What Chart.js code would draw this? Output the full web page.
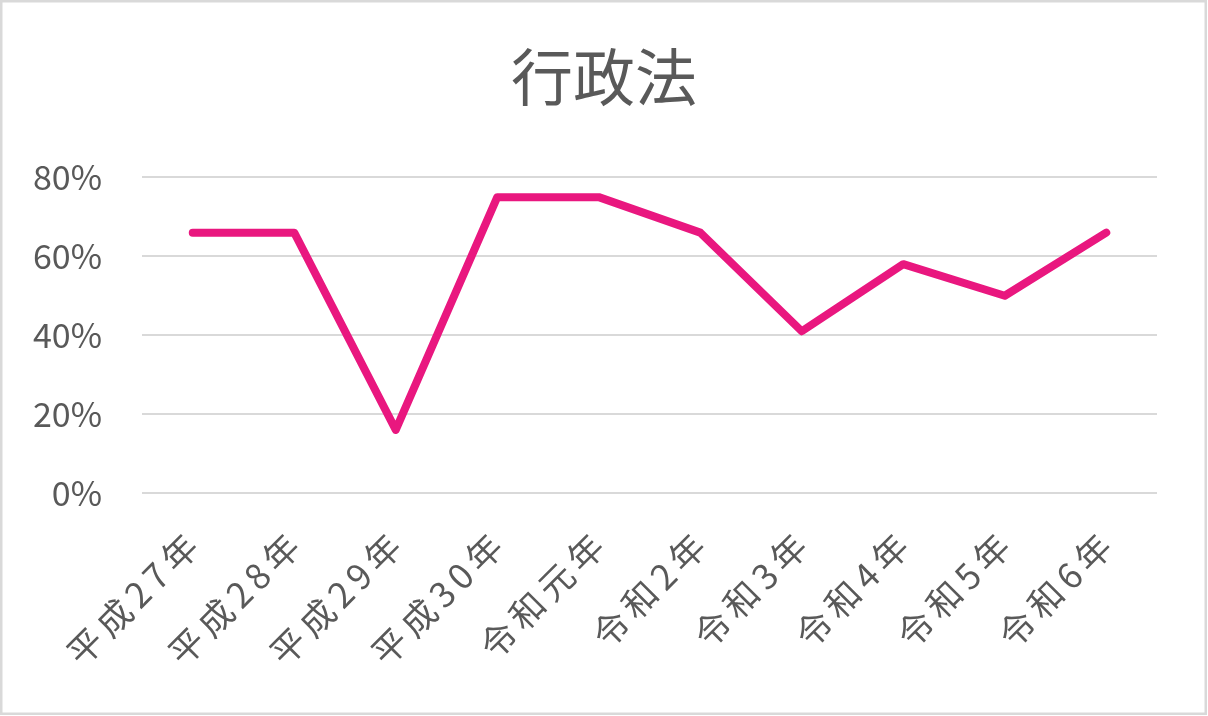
<!DOCTYPE html>
<html>
<head>
<meta charset="utf-8">
<script src="https://cdn.jsdelivr.net/npm/chart.js@4.4.1/dist/chart.umd.min.js"></script>
<style>
  body { margin: 0; background: #fff; }
  #wrap { width: 1208px; height: 716px; position: relative; }
</style>
</head>
<body>
<div id="wrap"><canvas id="chart" width="1208" height="716"></canvas></div>
<script>
  const chartTitle = '行政法';
  const categories = ['平成27年', '平成28年', '平成29年', '平成30年', '令和元年', '令和2年', '令和3年', '令和4年', '令和5年', '令和6年'];
  const rates = [66, 66, 16, 75, 75, 66, 41, 58, 50, 66];
  const yTicks = [0, 20, 40, 60, 80];

  const textColor = '#595959';
  const gridColor = '#d9d9d9';
  const lineColor = '#e9177f';
  const fontFamily = '"Noto Sans CJK JP", "Noto Sans", sans-serif';

  // light frame round the whole chart, like the office chart border
  const frame = {
    id: 'frame',
    afterDraw(chart) {
      const ctx = chart.ctx;
      ctx.save();
      ctx.strokeStyle = gridColor;
      ctx.lineWidth = 2.5;
      ctx.strokeRect(1.25, 1.25, chart.width - 3.5, chart.height - 3.5);
      ctx.restore();
    }
  };

  // category labels in the original run a little looser than the font gives
  function spaceOutLabels(scale) {
    if (scale._spaced) return;
    const orig = scale.drawLabels;
    scale.drawLabels = function (area) {
      const c = this.ctx;
      c.save();
      c.letterSpacing = '6px';
      orig.call(this, area);
      c.restore();
    };
    scale._spaced = true;
  }

  const ctx = document.getElementById('chart').getContext('2d');
  new Chart(ctx, {
    type: 'line',
    data: {
      labels: categories,
      datasets: [{
        label: chartTitle,
        data: rates,
        borderColor: lineColor,
        backgroundColor: lineColor,
        borderWidth: 8,
        borderCapStyle: 'round',
        borderJoinStyle: 'round',
        pointRadius: 0,
        tension: 0,
        fill: false
      }]
    },
    options: {
      responsive: false,
      animation: false,
      layout: { padding: 0 },
      plugins: {
        legend: { display: false },
        tooltip: { enabled: false },
        title: {
          display: true,
          text: chartTitle,
          color: textColor,
          font: { family: fontFamily, size: 62, weight: 'normal', lineHeight: 1.2 },
          padding: { top: 40, bottom: 63 }
        }
      },
      scales: {
        x: {
          offset: true,
          grid: { display: false, drawTicks: false },
          border: { display: false },
          ticks: {
            color: textColor,
            font: { family: fontFamily, size: 35 },
            minRotation: 45,
            maxRotation: 45,
            autoSkip: false,
            padding: 28,
            labelOffset: 3
          },
          afterFit(scale) { scale.height = 223; },
          afterUpdate: spaceOutLabels
        },
        y: {
          min: 0,
          max: 80,
          afterBuildTicks(scale) { scale.ticks = yTicks.map(v => ({ value: v })); },
          grid: { color: gridColor, lineWidth: 2, drawTicks: false },
          border: { display: false },
          ticks: {
            color: textColor,
            font: { family: fontFamily, size: 34 },
            padding: 40,
            callback: v => v + '%'
          },
          afterFit(scale) { scale.width = 142; }
        },
        // empty right-hand strip so the plot stops short of the frame
        yr: {
          position: 'right',
          min: 0,
          max: 1,
          grid: { display: false, drawTicks: false },
          border: { display: false },
          ticks: { display: false },
          afterFit(scale) { scale.width = 51; }
        }
      }
    },
    plugins: [frame]
  });
</script>
</body>
</html>
